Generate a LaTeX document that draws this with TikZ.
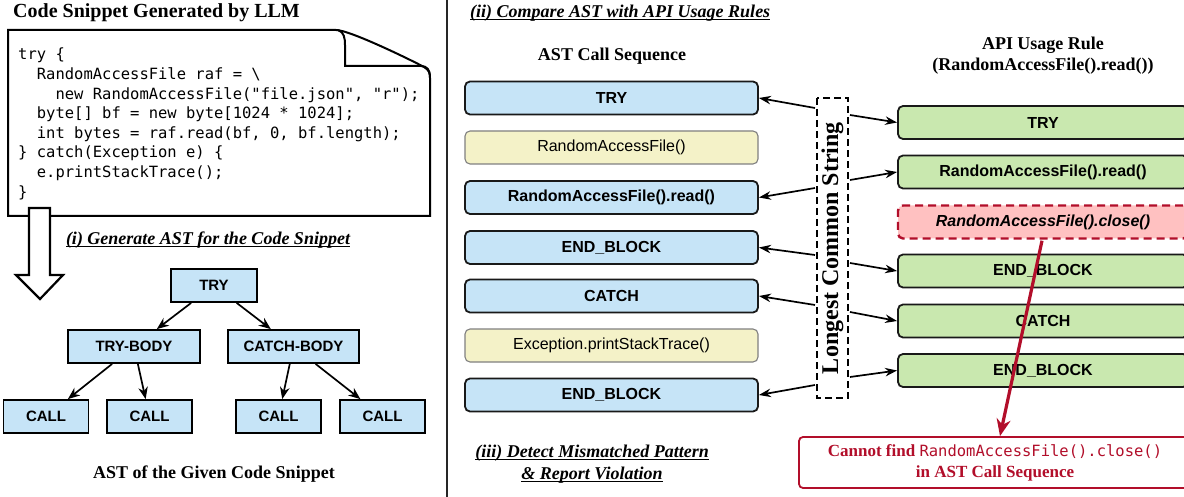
\documentclass[tikz,border=0pt]{standalone}
\usepackage{fontspec}
\setmainfont{Liberation Serif}
\setsansfont{Liberation Sans}
\setmonofont{DejaVu Sans Mono}
\usetikzlibrary{arrows.meta,calc}
\newcommand\fsz[2]{\fontsize{#1pt}{#2pt}\selectfont}
\newcommand\myul[1]{\leavevmode\setbox0=\hbox{#1}\rlap{\rule[-2.6pt]{\wd0}{1.3pt}}\box0}
\definecolor{cblue}{RGB}{198,228,247}
\definecolor{cyel}{RGB}{244,242,200}
\definecolor{cgrn}{RGB}{201,232,175}
\definecolor{cpink}{RGB}{255,193,193}
\definecolor{cred}{RGB}{178,14,42}
\tikzset{
  seq/.style={rectangle, rounded corners=5pt, minimum width=293pt, minimum height=33pt, line width=1.8pt, draw=black!90, inner sep=0pt},
  bluebox/.style={seq, fill=cblue, font=\sffamily\bfseries\fsz{16}{19}},
  ylwbox/.style={seq, fill=cyel, draw=black!50, line width=1.1pt, font=\sffamily\fsz{16}{19}},
  grnbox/.style={seq, minimum width=290pt, fill=cgrn, font=\sffamily\bfseries\fsz{16}{19}},
  missbox/.style={seq, minimum width=290pt, fill=cpink, draw=cred, line width=2.4pt, dash pattern=on 8pt off 5pt, font=\sffamily\bfseries\itshape\fsz{16}{19}},
  treebox/.style={rectangle, draw=black, line width=1.8pt, fill=cblue, minimum height=33pt, inner sep=0pt, font=\sffamily\bfseries\fsz{15}{18}},
  arr/.style={-{Stealth[length=12pt,width=8.5pt]}, line width=1.7pt},
  tarr/.style={-{Stealth[length=12pt,width=9.5pt]}, line width=1.7pt},
  head/.style={font=\bfseries\fsz{18}{21}, align=center, inner sep=0pt},
  ihead/.style={font=\bfseries\itshape\fsz{18}{21}, align=center, inner sep=0pt},
}
\begin{document}
\begin{tikzpicture}[x=1pt,y=-1pt]
\useasboundingbox (0,0) rectangle (1184,497);
\fill[white] (0,0) rectangle (1184,497);

% ---------- left panel ----------
\node[head, anchor=west, font=\bfseries\fsz{20}{24}] (title) at (13,13) {Code Snippet Generated by LLM};

% code document with folded corner
\draw[line width=2pt, fill=white] (8,216) -- (8,30) -- (336,30)
  .. controls (350,30) and (415,62) .. (424,67)
  .. controls (429,70) and (430,73) .. (430,78) -- (430,216) -- cycle;
\draw[line width=2pt] (338,30) .. controls (344,32) and (345,38) .. (345,45)
  -- (345,66) -- (421,66) .. controls (427,66) and (430,70) .. (430,77);
\node[anchor=north west, inner sep=0pt, align=left, font=\ttfamily\fsz{15.5}{19.6}] (code) at (18,48) {%
try \{\\
\phantom{xx}RandomAccessFile raf = \textbackslash\\
\phantom{xxxx}new RandomAccessFile("file.json", "r");\\
\phantom{xx}byte[] bf = new byte[1024 * 1024];\\
\phantom{xx}int bytes = raf.read(bf, 0, bf.length);\\
\} catch(Exception e) \{\\
\phantom{xx}e.printStackTrace();\\
\}};

% hollow arrow
\draw[line width=2.2pt, fill=white] (29,208) -- (50,208) -- (50,275) -- (63,275) -- (40,299) -- (16,275) -- (29,275) -- cycle;

\node[ihead] (stepi) at (208,240) {\myul{(i) Generate AST for the Code Snippet}};

% AST tree
\node[treebox, minimum width=86pt] (try) at (214,285.5) {TRY};
\node[treebox, minimum width=132pt] (tb) at (134,346.5) {TRY-BODY};
\node[treebox, minimum width=131pt] (cb) at (293.5,346.5) {CATCH-BODY};
\node[treebox, minimum width=85pt] (c1) at (46,416.5) {CALL};
\node[treebox, minimum width=85pt] (c2) at (149.5,416.5) {CALL};
\node[treebox, minimum width=85pt] (c3) at (278.5,416.5) {CALL};
\node[treebox, minimum width=85pt] (c4) at (382.5,416.5) {CALL};
\draw[tarr] (try) -- (tb);
\draw[tarr] (try) -- (cb);
\draw[tarr] (tb) -- (c1);
\draw[tarr] (tb) -- (c2);
\draw[tarr] (cb) -- (c3);
\draw[tarr] (cb) -- (c4);

\node[head] (astcap) at (214,474) {AST of the Given Code Snippet};

% divider
\draw[line width=2pt, black!85] (447,0) -- (447,497);

% ---------- right panel ----------
\node[ihead, anchor=west] (stepii) at (470,13) {\myul{(ii) Compare AST with API Usage Rules}};
\node[head] (seqcap) at (612,56) {AST Call Sequence};
\node[head] (rulecap) at (1043,56) {API Usage Rule\\(RandomAccessFile().read())};

\node[bluebox] (b1) at (611.5,98) {TRY};
\node[ylwbox]  (b2) at (611.5,147.5) {RandomAccessFile()};
\node[bluebox] (b3) at (611.5,197.5) {RandomAccessFile().read()};
\node[bluebox] (b4) at (611.5,247.5) {END\_BLOCK};
\node[bluebox] (b5) at (611.5,296) {CATCH};
\node[ylwbox]  (b6) at (611.5,345.5) {Exception.printStackTrace()};
\node[bluebox] (b7) at (611.5,395) {END\_BLOCK};

\node[grnbox]  (g1) at (1043,122.5) {TRY};
\node[grnbox]  (g2) at (1043,172) {RandomAccessFile().read()};
\node[missbox] (gc) at (1043,222) {RandomAccessFile().close()};
\node[grnbox]  (g4) at (1043,271) {END\_BLOCK};
\node[grnbox]  (g5) at (1043,321) {CATCH};
\node[grnbox]  (g6) at (1043,370.5) {END\_BLOCK};

% longest common string box
\node[draw, line width=1.7pt, dash pattern=on 7pt off 4pt, rotate=90, minimum width=300pt, minimum height=31pt, inner sep=0pt, font=\bfseries\fsz{24}{28}] (lcs) at (832.5,248) {Longest Common String};

\coordinate (l1) at (815,108);
\coordinate (l3) at (815,188);
\coordinate (l4) at (815,255);
\coordinate (l5) at (815,305);
\coordinate (l7) at (815,385);
\coordinate (r1) at (850,115);
\coordinate (r2) at (850,180);
\coordinate (r4) at (850,263);
\coordinate (r5) at (850,312);
\coordinate (r6) at (850,377);
\draw[arr] (l1) -- (b1.east);
\draw[arr] (l3) -- (b3.east);
\draw[arr] (l4) -- (b4.east);
\draw[arr] (l5) -- (b5.east);
\draw[arr] (l7) -- (b7.east);
\draw[arr] (r1) -- (g1.west);
\draw[arr] (r2) -- (g2.west);
\draw[arr] (r4) -- (g4.west);
\draw[arr] (r5) -- (g5.west);
\draw[arr] (r6) -- (g6.west);

% report
\node[rectangle, rounded corners=4pt, draw=cred, line width=1.8pt, fill=white, minimum width=392pt, minimum height=51pt, inner sep=0pt, align=center, text=cred, font=\bfseries\fsz{17}{21}] (rep) at (995,462.5)
  {Cannot find {\mdseries\ttfamily\fsz{15.5}{21}RandomAccessFile().close()}\\in AST Call Sequence};
\draw[cred, line width=3.2pt, -{Stealth[length=17pt,width=14pt]}] ($(gc.south)+(-1,1)$) -- ($(rep.north)+(5,0)$);

\node[ihead, font=\bfseries\itshape\fsz{18}{22}] (stepiii) at (592,464) {\myul{(iii) Detect Mismatched Pattern}\\\myul{\& Report Violation}};
\end{tikzpicture}
\end{document}
